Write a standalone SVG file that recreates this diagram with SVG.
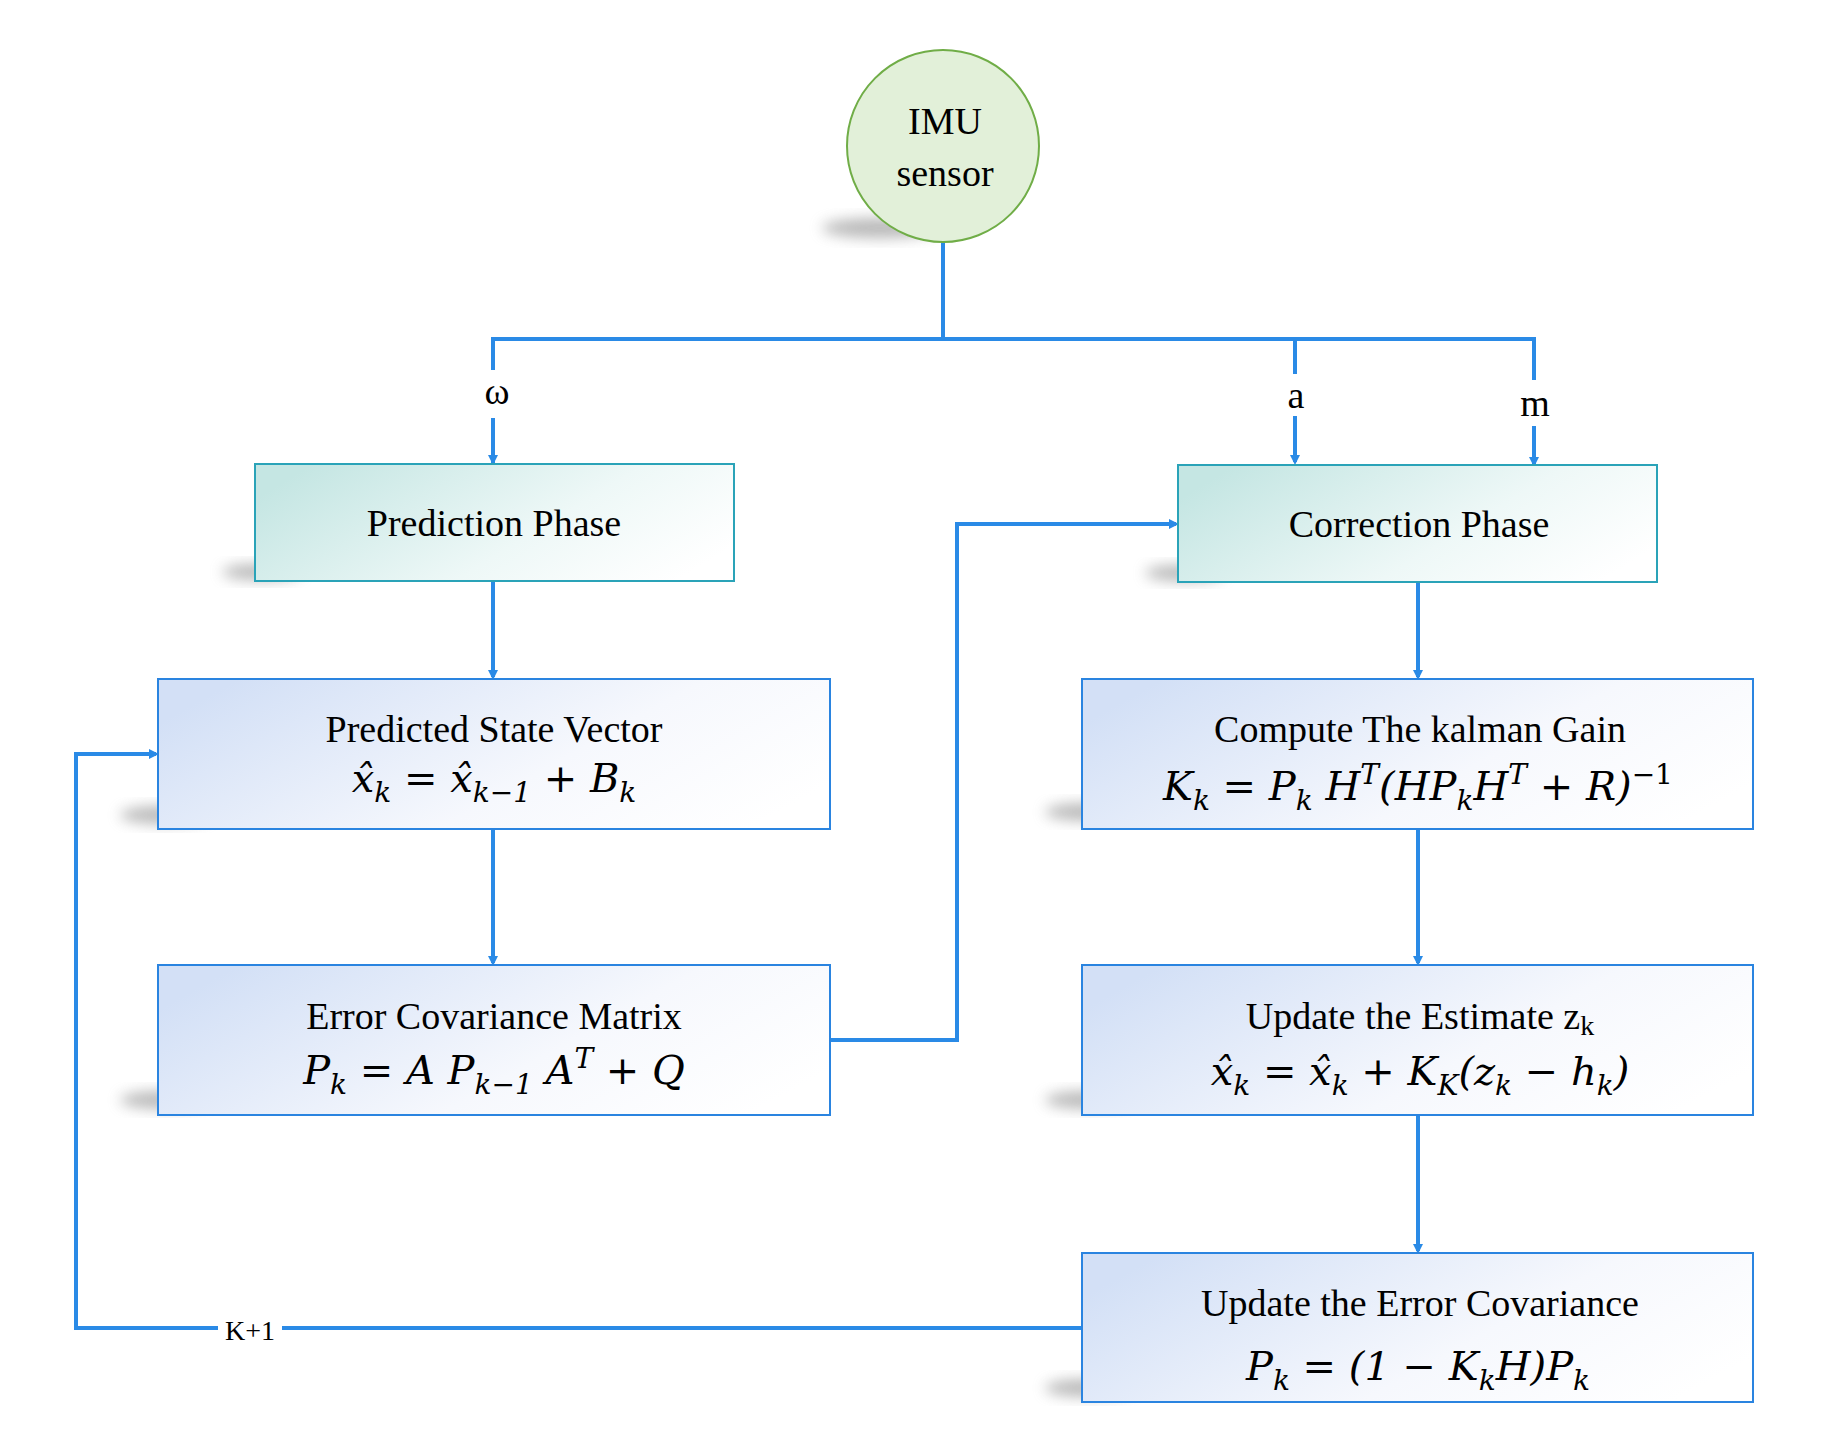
<svg xmlns="http://www.w3.org/2000/svg" width="1823" height="1455" viewBox="0 0 1823 1455">
<defs>
<linearGradient id="gb" x1="0" y1="0.3" x2="1" y2="0.7"><stop offset="0" stop-color="#d3e0f6"/><stop offset="0.6" stop-color="#f6f8fd"/><stop offset="1" stop-color="#ffffff"/></linearGradient>
<linearGradient id="gt" x1="0" y1="0.3" x2="1" y2="0.7"><stop offset="0" stop-color="#c5e6e3"/><stop offset="0.6" stop-color="#eef8f7"/><stop offset="1" stop-color="#ffffff"/></linearGradient>
<filter id="blur" x="-50%" y="-50%" width="200%" height="200%"><feGaussianBlur stdDeviation="7"/></filter>
<marker id="ah" markerWidth="10" markerHeight="10" refX="7" refY="5" orient="auto" markerUnits="userSpaceOnUse" viewBox="0 0 10 10"><path d="M0,0 L10,5 L0,10 z" fill="#2a8ae6"/></marker>
</defs>
<style>
.box{stroke:#2a84e0;stroke-width:2}
.tb{stroke:#2aa3b8;stroke-width:2}
.sh{fill:#8a8a8a;opacity:0.6;filter:url(#blur)}
.c{fill:none;stroke:#2a8ae6;stroke-width:4}
.t{font-family:"Liberation Serif","Times New Roman",serif;font-size:38px;fill:#000;text-anchor:middle}
.m{font-family:"DejaVu Serif","Liberation Serif",serif;font-style:italic;font-size:40px;fill:#000;text-anchor:middle}
.s{font-size:28px}
</style>
<rect width="1823" height="1455" fill="#fff"/>
<g id="shadows">
<ellipse class="sh" cx="880" cy="228" rx="58" ry="10"/>
<ellipse class="sh" cx="262" cy="572" rx="40" ry="8"/>
<ellipse class="sh" cx="1185" cy="573" rx="40" ry="8"/>
<ellipse class="sh" cx="165" cy="815" rx="45" ry="9"/>
<ellipse class="sh" cx="165" cy="1100" rx="45" ry="9"/>
<ellipse class="sh" cx="1090" cy="812" rx="45" ry="9"/>
<ellipse class="sh" cx="1090" cy="1100" rx="45" ry="9"/>
<ellipse class="sh" cx="1090" cy="1388" rx="45" ry="9"/>
</g>
<g id="connectors">
<polyline class="c" points="943,242 943,339"/>
<polyline class="c" points="493,464 493,339 1534,339 1534,464" marker-end="url(#ah)"/>
<line class="c" x1="493" y1="420" x2="493" y2="462" marker-end="url(#ah)"/>
<line class="c" x1="1295" y1="339" x2="1295" y2="462" marker-end="url(#ah)"/>
<line class="c" x1="493" y1="581" x2="493" y2="677" marker-end="url(#ah)"/>
<line class="c" x1="493" y1="829" x2="493" y2="963" marker-end="url(#ah)"/>
<polyline class="c" points="830,1040 957,1040 957,524 1176,524" marker-end="url(#ah)"/>
<line class="c" x1="1418" y1="582" x2="1418" y2="677" marker-end="url(#ah)"/>
<line class="c" x1="1418" y1="829" x2="1418" y2="963" marker-end="url(#ah)"/>
<line class="c" x1="1418" y1="1115" x2="1418" y2="1251" marker-end="url(#ah)"/>
<polyline class="c" points="1082,1328 76,1328 76,754 156,754" marker-end="url(#ah)"/>
<rect x="468" y="370" width="50" height="48" fill="#fff"/>
<rect x="1275" y="374" width="40" height="42" fill="#fff"/>
<rect x="1510" y="380" width="50" height="46" fill="#fff"/>
<text class="t" x="497" y="404">ω</text>
<text class="t" x="1296" y="408">a</text>
<text class="t" x="1535" y="416">m</text>
<rect x="218" y="1312" width="64" height="32" fill="#fff"/>
<text class="t" x="250" y="1340" style="font-size:28px">K+1</text>
</g>
<g id="imu">
<circle cx="943" cy="146" r="96" fill="#e2f0d9" stroke="#70ad47" stroke-width="2"/>
<text class="t" x="945" y="134">IMU</text>
<text class="t" x="945" y="186">sensor</text>
</g>
<g id="prediction"><rect class="tb" x="255" y="464" width="479" height="117" fill="url(#gt)"/><text class="t" x="494" y="536">Prediction Phase</text></g>
<g id="correction"><rect class="tb" x="1178" y="465" width="479" height="117" fill="url(#gt)"/><text class="t" x="1419" y="537">Correction Phase</text></g>
<g id="state"><rect class="box" x="158" y="679" width="672" height="150" fill="url(#gb)"/>
<text class="t" x="494" y="742">Predicted State Vector</text>
<text class="m" x="494" y="792">x̂<tspan class="s" dy="10">k</tspan><tspan dy="-10"> = x̂</tspan><tspan class="s" dy="10">k−1</tspan><tspan dy="-10"> + B</tspan><tspan class="s" dy="10">k</tspan></text></g>
<g id="errcov"><rect class="box" x="158" y="965" width="672" height="150" fill="url(#gb)"/>
<text class="t" x="494" y="1029">Error Covariance Matrix</text>
<text class="m" x="494" y="1084">P<tspan class="s" dy="10">k</tspan><tspan dy="-10"> = A P</tspan><tspan class="s" dy="10">k−1</tspan><tspan dy="-10"> A</tspan><tspan class="s" dy="-16">T</tspan><tspan dy="16"> + Q</tspan></text></g>
<g id="gain"><rect class="box" x="1082" y="679" width="671" height="150" fill="url(#gb)"/>
<text class="t" x="1420" y="742">Compute The kalman Gain</text>
<text class="m" x="1418" y="800">K<tspan class="s" dy="10">k</tspan><tspan dy="-10"> = P</tspan><tspan class="s" dy="10">k</tspan><tspan dy="-10"> H</tspan><tspan class="s" dy="-16">T</tspan><tspan dy="16">(HP</tspan><tspan class="s" dy="10">k</tspan><tspan dy="-10">H</tspan><tspan class="s" dy="-16">T</tspan><tspan dy="16"> + R)</tspan><tspan class="s" dy="-16" style="font-style:normal">−1</tspan></text></g>
<g id="estimate"><rect class="box" x="1082" y="965" width="671" height="150" fill="url(#gb)"/>
<text class="t" x="1420" y="1029">Update the Estimate z<tspan class="s" dy="6">k</tspan></text>
<text class="m" x="1420" y="1085">x̂<tspan class="s" dy="10">k</tspan><tspan dy="-10"> = x̂</tspan><tspan class="s" dy="10">k</tspan><tspan dy="-10"> + K</tspan><tspan class="s" dy="10">K</tspan><tspan dy="-10">(z</tspan><tspan class="s" dy="10">k</tspan><tspan dy="-10"> − h</tspan><tspan class="s" dy="10">k</tspan><tspan dy="-10">)</tspan></text></g>
<g id="updcov"><rect class="box" x="1082" y="1253" width="671" height="149" fill="url(#gb)"/>
<text class="t" x="1420" y="1316">Update the Error Covariance</text>
<text class="m" x="1418" y="1380">P<tspan class="s" dy="10">k</tspan><tspan dy="-10"> = (1 − K</tspan><tspan class="s" dy="10">k</tspan><tspan dy="-10">H)P</tspan><tspan class="s" dy="10">k</tspan></text></g>
</svg>
